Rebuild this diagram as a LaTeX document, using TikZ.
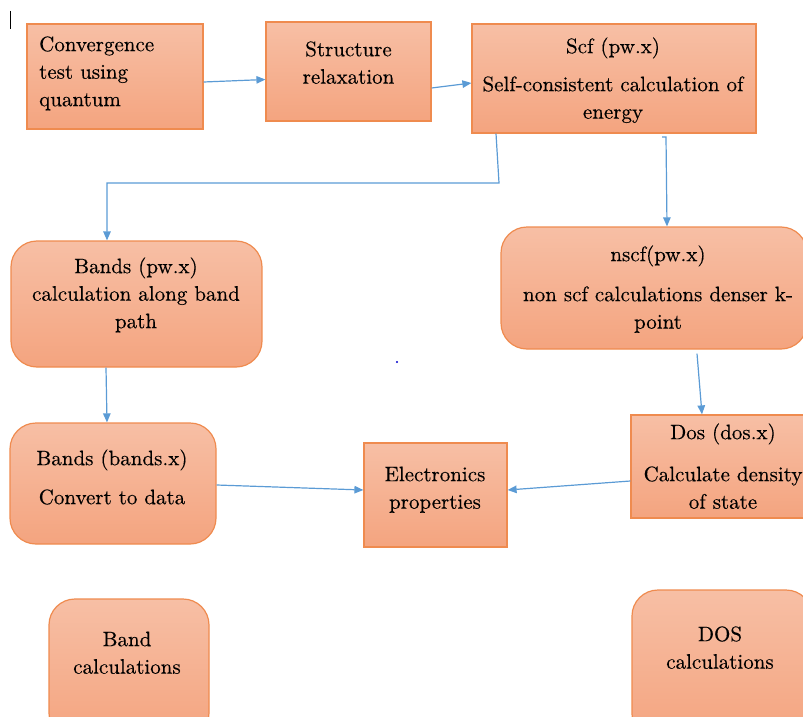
\documentclass[tikz,border=0pt]{standalone}
\usepackage{fontspec}
% text face: Latin Modern Roman, 10pt design size at every size, slightly emboldened
\newfontfamily\boxface{lmroman10-regular.otf}[FakeBold=0.3]
\usetikzlibrary{arrows.meta,calc}

\definecolor{boxtop}{HTML}{F7BFA5}
\definecolor{boxbot}{HTML}{F4A47F}
\definecolor{boxedge}{HTML}{EF8B4F}
\definecolor{flow}{HTML}{5B9BD5}

% invisible strut fixing the first baseline of every text block
\newcommand\firstline{\rule[-6pt]{0pt}{22pt}}

\begin{document}
\begin{tikzpicture}[x=1pt,y=-1pt,
  box/.style={draw=boxedge,line width=1.2pt,top color=boxtop,bottom color=boxbot,inner sep=0pt},
  roundbox/.style={box,rounded corners=26pt},
  boxtext/.style={inner sep=0pt,align=center,anchor=north,text=black,
    font=\boxface\fontsize{21}{27.5}\selectfont},
  flowline/.style={draw=flow,line width=1.2pt},
  flowarrow/.style={flowline,-{Triangle[length=9pt,width=7.5pt]}}
]
\clip (0,0) rectangle (803,717);

% text cursor mark and stray dot
\draw[line width=1pt] (10,11) -- (10,29);
\fill[blue!80!black] (397,362) circle (1.1);

% boxes
\node[box,minimum width=176pt,minimum height=105pt] (conv) at (115,76.5) {};
\node[box,minimum width=165pt,minimum height=99pt] (struct) at (348.5,71.5) {};
\node[box,minimum width=284pt,minimum height=109pt] (scf) at (614,78.5) {};
\node[roundbox,minimum width=251pt,minimum height=126pt] (bpw) at (136.5,304) {};
\node[roundbox,minimum width=306pt,minimum height=122pt] (nscf) at (654,288) {};
\node[roundbox,minimum width=206pt,minimum height=121pt] (bbx) at (113,483.5) {};
\node[box,minimum width=143pt,minimum height=104pt] (elec) at (435.5,495) {};
\node[box,minimum width=184pt,minimum height=103pt] (dos) at (723,466.5) {};
\node[roundbox,minimum width=160pt,minimum height=140pt] (bandc) at (129,669) {};
\node[roundbox,minimum width=180pt,minimum height=150pt] (dosc) at (722,665) {};

% texts
\node[boxtext,align=left,anchor=north west] (convtext) at (39,35)
  {\firstline Convergence\\test using\\quantum};
\node[boxtext] (structtext) at (348.5,40) {\firstline Structure\\relaxation};
\node[boxtext] (scftext) at (613,37)
  {\firstline Scf (pw.x)\\[10.5pt]Self-consistent calculation of\\energy};
\node[boxtext] (bpwtext) at (136,257)
  {\firstline Bands (pw.x)\\calculation along band\\path};
\node[boxtext] (nscftext) at (658,245)
  {\firstline nscf(pw.x)\\[12.5pt]non scf calculations denser k-\\point};
\node[boxtext] (bbxtext) at (112,449)
  {\firstline Bands (bands.x)\\[11.5pt]Convert to data};
\node[boxtext] (electext) at (435,465) {\firstline Electronics\\properties};
\node[boxtext] (dostext) at (723,423)
  {\firstline Dos (dos.x)\\[14.5pt]Calculate density\\of state};
\node[boxtext] (bandctext) at (127,630) {\firstline Band\\calculations};
\node[boxtext] (dosctext) at (720,625) {\firstline DOS\\calculations};

% bends of the elbow connectors
\coordinate (scfbend) at (499,183);
\coordinate (bandbend) at (107,183);
\coordinate (tick) at (666,137);

% connectors
\draw[flowarrow] ($(conv.east)+(0,5.5)$) -- ($(struct.west)+(0,8)$);
\draw[flowarrow] ($(struct.east)+(0,16.5)$) -- ($(scf.west)+(0,4.5)$);
\draw[flowarrow] ($(scf.south)+(-118,0)$) -- (scfbend) -- (bandbend)
  -- ($(bpw.north)+(-29.5,0)$);
\draw[flowarrow] ($(tick)+(-4,0)$) -- (tick) -- ($(nscf.north)+(13,0)$);
\draw[flowarrow] ($(bpw.south)+(-30.5,0)$) -- ($(bbx.north)+(-6,0)$);
\draw[flowarrow] ($(nscf.south)+(43,4)$) -- ($(dos.north)+(-21,0)$);
\draw[flowarrow] ($(bbx.east)+(0,1.5)$) -- ($(elec.west)+(0,-5)$);
\draw[flowarrow] ($(dos.west)+(0,14.5)$) -- ($(elec.east)+(0,-5)$);
\end{tikzpicture}
\end{document}
